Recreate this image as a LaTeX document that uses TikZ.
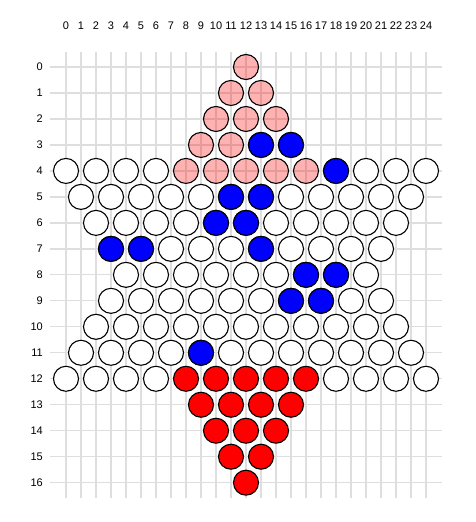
\documentclass[tikz,border=0pt]{standalone}
\usepackage{fontspec}
\setmainfont{Liberation Sans}

\tikzset{
  hole/.style={circle, draw=black, line width=1.1pt, minimum size=25pt, inner sep=0pt, fill=white},
  pinkpeg/.style={hole, fill=red, fill opacity=0.3},
  bluepeg/.style={hole, fill=blue},
  redpeg/.style={hole, fill=red},
  gridline/.style={black!13, line width=1.3pt},
  lbl/.style={font=\fontsize{11}{12}\selectfont, inner sep=0pt}
}

\begin{document}
\begin{tikzpicture}[x=15pt, y=-25.98pt]
\useasboundingbox (-66pt,67pt) rectangle (409pt,-455pt);
% grid
\foreach \c in {0,...,24} \draw[gridline] (\c,-0.59) -- (\c,16.59);
\foreach \r in {0,...,16} \draw[gridline] (-1.07,\r) -- (25.07,\r);
% labels
\foreach \c in {0,...,24} \node[lbl] (col\c) at (\c,-1.58) {\c};
\foreach \r in {0,...,16} \node[lbl, anchor=east] (row\r) at ([xshift=-23pt]0,\r) {\r};
% board
\foreach \r in {0,...,16} {
  \pgfmathtruncatemacro\lo{(\r<4 || (\r>8 && \r<13)) ? 12-\r : \r-4}
  \pgfmathtruncatemacro\n{(12-\lo)}
  \foreach \k in {0,...,\n} {
    \pgfmathtruncatemacro\c{\lo+2*\k}
    \ifnum\c>\numexpr24-\lo\relax\else
    \pgfmathtruncatemacro\kind{(\r<4 || (\r==4 && \c>7 && \c<17)) ? 1 : ((\r>12 || (\r==12 && \c>7 && \c<17)) ? 2 : 0)}
    \ifcase\kind \def\sty{hole}\or\def\sty{pinkpeg}\or\def\sty{redpeg}\fi
    \node[\sty] (h\r-\c) at (\c,\r) {};
    \fi
  }
}
% blue pegs
\foreach \r/\c in {3/13,3/15,4/18,5/11,5/13,6/10,6/12,7/3,7/5,7/13,8/16,8/18,9/15,9/17,11/9}
  \node[bluepeg] (b\r-\c) at (h\r-\c) {};
\end{tikzpicture}
\end{document}
